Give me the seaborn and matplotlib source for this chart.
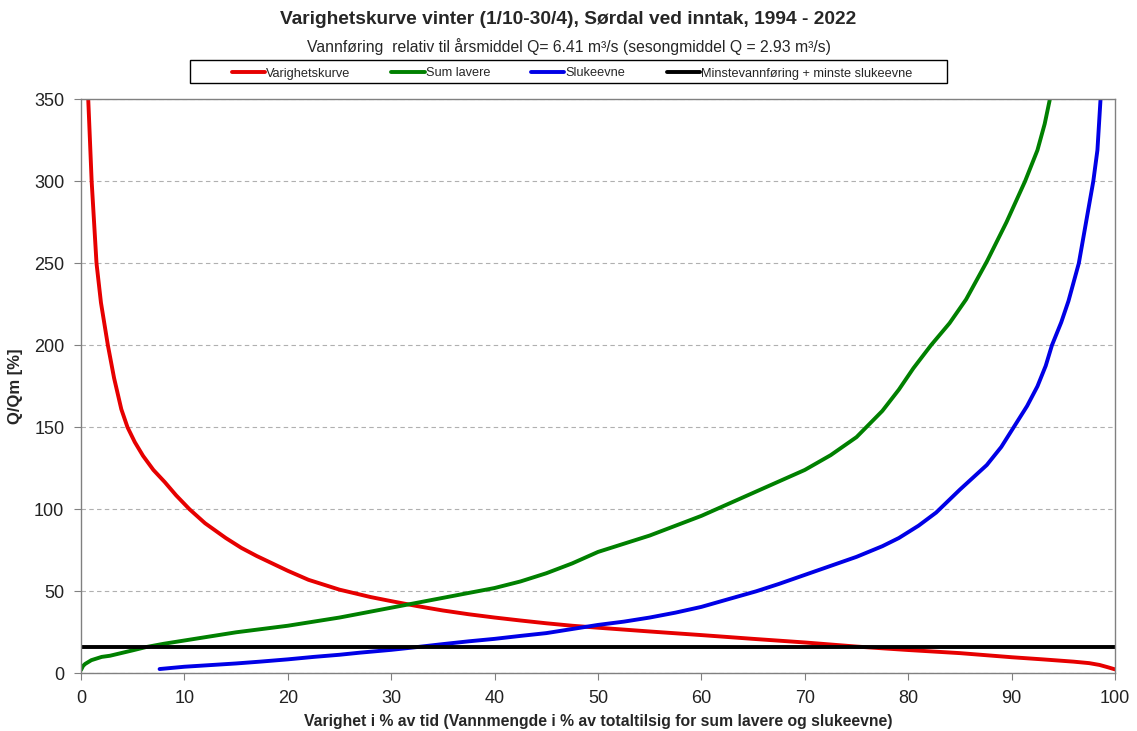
import matplotlib
matplotlib.use("Agg")
import matplotlib.pyplot as plt
from matplotlib.patches import Rectangle
import seaborn as sns
import pandas as pd

# Varighetskurve (red)
red_x = [0.7, 1.03, 1.5, 1.93, 2.6, 3.2, 3.9, 4.5, 5.2, 6, 7, 8.1, 9.2, 10.5, 12, 14, 15.5, 17,
         18.5, 20, 22, 25, 28, 30, 32.5, 35, 37.5, 40, 42.5, 45, 47.5, 50, 55, 60, 65, 70, 75,
         80, 85, 90, 93, 96, 97.5, 98.5, 99.3, 100]
red_y = [350, 300, 250, 226, 200, 180, 161, 150, 141, 132.6, 124, 116.6, 108.5, 100, 91.5, 82.5,
         76.5, 71.5, 67, 62.5, 57, 51, 46.5, 44, 41, 38.3, 36, 34, 32.2, 30.5, 29, 27.8, 25.5,
         23.3, 21, 18.8, 16.3, 14.2, 12.3, 9.8, 8.5, 7.1, 6.2, 5.1, 3.7, 2.4]

# Sum lavere (green)
green_x = [0, 0.2, 0.4, 1, 2, 2.8, 4, 5, 6.3, 8, 10, 12.5, 15, 17.5, 20, 22.5, 25, 27.5, 30,
           32.5, 35, 37.5, 40, 42.5, 45, 47.5, 50, 52.5, 55, 57.5, 60, 62.5, 65, 67.5, 70,
           72.5, 75, 77.5, 79.1, 80.5, 82.2, 84, 85.6, 87.6, 89.5, 91.3, 92.5, 93.2, 93.7]
green_y = [2, 4.5, 5.7, 8, 10, 10.7, 12.5, 14, 16, 18, 20, 22.5, 25, 27, 29, 31.5, 34, 37, 40,
           43, 46, 49, 52, 56, 61, 67, 74, 79, 84, 90, 96, 103, 110, 117, 124, 133, 144, 160,
           173, 186, 200, 213.5, 228, 251, 275, 300, 319, 335, 350]

# Slukeevne (blue)
blue_x = [7.6, 10, 12.5, 15, 17.3, 20, 22.5, 25, 27, 30, 32.5, 35, 37.5, 40, 42.5, 45, 47.5,
          50, 52.5, 55, 57.5, 60, 62.5, 65.3, 67.5, 70, 72.5, 75, 77.5, 79.1, 81, 82.7, 85,
          87.6, 89, 90.2, 91.5, 92.5, 93.3, 93.9, 94.8, 95.5, 96.5, 97.2, 97.9, 98.3, 98.6]
blue_y = [2.6, 4, 5, 6, 7.1, 8.5, 10, 11.3, 12.6, 14.3, 16, 17.8, 19.5, 21, 22.8, 24.5, 27,
          29.5, 31.5, 34, 37, 40.5, 45, 50, 54.5, 60, 65.5, 71, 77.5, 82.5, 90, 98, 112, 127,
          138, 150, 163, 175, 187.5, 200, 214, 227, 250, 275, 300, 319, 350]

# Minstevannføring + minste slukeevne (black)
min_x = [0, 100]
min_y = [16, 16]

series = [
    ("Varighetskurve", red_x, red_y, "#e60000"),
    ("Sum lavere", green_x, green_y, "#008000"),
    ("Slukeevne", blue_x, blue_y, "#0000e6"),
    ("Minstevannføring + minste slukeevne", min_x, min_y, "#000000"),
]

sns.set_style("white")
plt.rcParams["font.family"] = ["Liberation Sans", "DejaVu Sans"]

fig = plt.figure(figsize=(11.37, 7.31), dpi=100)
ax = fig.add_axes([81 / 1137, 1 - 673.3 / 731, 1034 / 1137, 574 / 731])

for name, xs, ys, col in series:
    df = pd.DataFrame({"x": xs, "y": ys})
    sns.lineplot(data=df, x="x", y="y", sort=False, color=col, linewidth=2.8,
                 label=name, ax=ax, legend=False)

ax.set_xlim(0, 100)
ax.set_ylim(0, 350)
ax.set_xticks(range(0, 101, 10))
ax.set_yticks(range(0, 351, 50))
ax.yaxis.grid(True, linestyle=(0, (4, 3)), color="#b0b0b0", linewidth=0.8)
ax.set_axisbelow(True)
for s in ax.spines.values():
    s.set_color("#808080")
    s.set_linewidth(1.0)
ax.tick_params(axis="both", which="major", labelsize=13, colors="#808080",
               labelcolor="#222222", length=5, direction="out", bottom=True, left=True)
ax.tick_params(axis="x", pad=7)
ax.tick_params(axis="y", pad=7)

ax.set_xlabel("Varighet i % av tid (Vannmengde i % av totaltilsig for sum lavere og slukeevne)",
              fontsize=11.3, fontweight="bold", labelpad=5)
ax.set_ylabel("Q/Qm [%]", fontsize=12, fontweight="bold", labelpad=8)

fig.text(0.5, 1 - 20 / 731, "Varighetskurve vinter (1/10-30/4), Sørdal ved inntak, 1994 - 2022",
         ha="center", va="center", fontsize=13.8, fontweight="bold")
fig.text(0.5, 1 - 47 / 731,
         "Vannføring  relativ til årsmiddel Q= 6.41 m³/s (sesongmiddel Q = 2.93 m³/s)",
         ha="center", va="center", fontsize=11.3)

handles = ax.get_lines()[:4]
leg = fig.legend(handles, [s[0] for s in series], ncol=4, loc="center",
                 bbox_to_anchor=(572 / 1137, 1 - 73.5 / 731),
                 fontsize=9.2, frameon=False, handlelength=2.6, handletextpad=0.1,
                 columnspacing=3.2, borderpad=0.2)
fig.patches.append(Rectangle((190 / 1137, 1 - 83 / 731), 757 / 1137, 23 / 731,
                             transform=fig.transFigure, fill=False, edgecolor="black",
                             linewidth=1.0))

fig.savefig("out.png", dpi=100)
plt.close(fig)
